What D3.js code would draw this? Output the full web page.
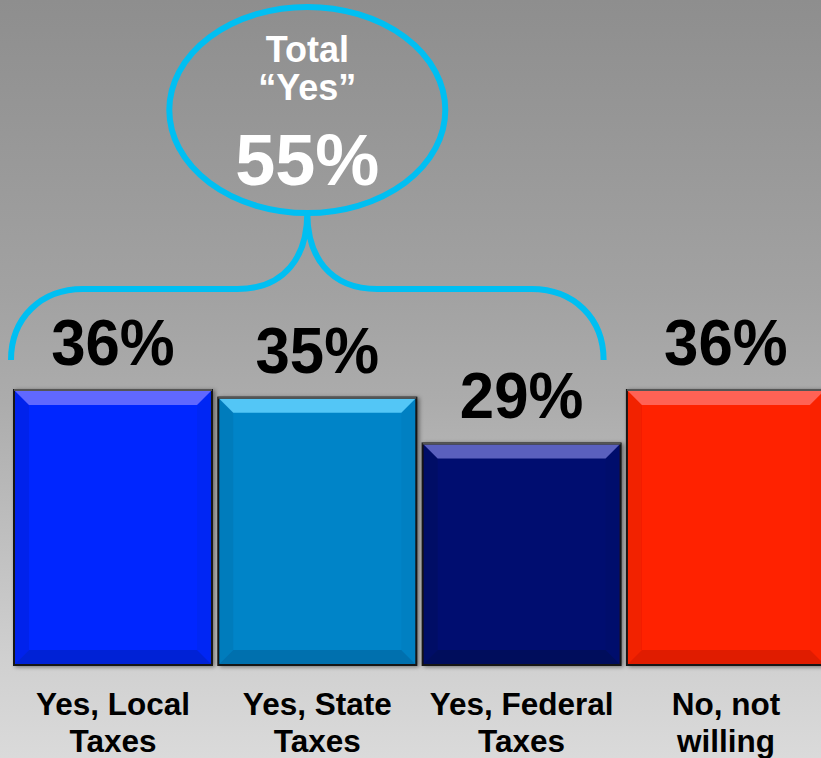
<!DOCTYPE html>
<html><head><meta charset="utf-8">
<script src="https://cdn.jsdelivr.net/npm/d3@7"></script>
<style>html,body{margin:0;padding:0;overflow:hidden;background:#aaa}</style>
</head><body>
<svg id="chart" width="821" height="758"></svg>
<script>
const categories = [["Yes, Local","Taxes"],["Yes, State","Taxes"],["Yes, Federal","Taxes"],["No, not","willing"]];
const values = [36, 35, 29, 36];
const valueLabels = ["36%","35%","29%","36%"];
const totalYes = ["Total", "\u201CYes\u201D", "55%"];
const barColors = [
  {main:"#0028ff", top:"#6068ff", left:"#0024ec", right:"#0026f4", bottom:"#0020d6"},
  {main:"#0084c8", top:"#52c6f6", left:"#007cbc", right:"#0080c2", bottom:"#006fae"},
  {main:"#000f70", top:"#5a60be", left:"#000c66", right:"#000e6c", bottom:"#000a5c"},
  {main:"#ff2200", top:"#ff6254", left:"#f22000", right:"#fa2100", bottom:"#e01c00"}
];

(function(){
const svg = d3.select("#chart");
const W = 821, H = 758;
const defs = svg.append("defs");
const bg = defs.append("linearGradient").attr("id","bg").attr("x1",0).attr("y1",0).attr("x2",0).attr("y2",1);
[[0,"#8e8e8e"],[0.39,"#a2a2a2"],[0.53,"#acacac"],[0.87,"#d0d0d0"],[1,"#dadada"]]
  .forEach(s=>bg.append("stop").attr("offset",s[0]).attr("stop-color",s[1]));
const sh = defs.append("filter").attr("id","sh").attr("x","-10%").attr("y","-10%").attr("width","130%").attr("height","130%");
sh.append("feDropShadow").attr("dx",2).attr("dy",1).attr("stdDeviation",2).attr("flood-color","#000").attr("flood-opacity",0.45);

svg.append("rect").attr("width",W).attr("height",H).attr("fill","url(#bg)");

const x = d3.scaleBand().domain(d3.range(values.length)).range([14, 824.9]).paddingInner(0.031).paddingOuter(0);
const y = d3.scaleLinear().domain([0, 36]).range([665, 390]);
const bw = x.bandwidth(), bev = 15;

const g = svg.append("g");
values.forEach((v,i)=>{
  const x0 = x(i), x1 = x0 + bw, t = y(v), b = y(0), c = barColors[i];
  const bar = g.append("g").attr("filter","url(#sh)");
  bar.append("rect").attr("x",x0).attr("y",t).attr("width",bw).attr("height",b-t).attr("fill",c.main);
  const poly = (pts,f)=>bar.append("polygon").attr("points",pts.map(p=>p.join(",")).join(" ")).attr("fill",f);
  poly([[x0,t],[x0+bev,t+bev],[x0+bev,b-bev],[x0,b]], c.left);
  poly([[x1,t],[x1-bev,t+bev],[x1-bev,b-bev],[x1,b]], c.right);
  poly([[x0,b],[x0+bev,b-bev],[x1-bev,b-bev],[x1,b]], c.bottom);
  poly([[x0,t],[x1,t],[x1-bev,t+bev],[x0+bev,t+bev]], c.top);
  bar.append("rect").attr("x",x0).attr("y",t).attr("width",bw).attr("height",b-t)
    .attr("fill","none").attr("stroke","#151515").attr("stroke-width",2);
  bar.append("line").attr("x1",x0).attr("x2",x1).attr("y1",t).attr("y2",t).attr("stroke","#555").attr("stroke-width",2);
});

// value labels
g.selectAll(".val").data(values).join("text")
  .attr("x",(d,i)=>x(i)+bw/2).attr("y",d=>y(d)-25)
  .attr("text-anchor","middle").attr("font-family","Liberation Sans, Arial, sans-serif")
  .attr("font-weight","bold").attr("font-size",65).attr("fill","#000")
  .attr("transform",(d,i)=>`translate(${x(i)+bw/2},${y(d)-25}) scale(0.95,1) translate(${-(x(i)+bw/2)},${-(y(d)-25)})`)
  .text((d,i)=>valueLabels[i]);

// category labels
categories.forEach((lines,i)=>{
  const t = svg.append("text").attr("text-anchor","middle")
    .attr("font-family","Liberation Sans, Arial, sans-serif").attr("font-weight","bold")
    .attr("font-size",31.5).attr("fill","#000");
  lines.forEach((l,j)=>t.append("tspan").attr("x",x(i)+bw/2).attr("y",715+j*37).text(l));
});

// brace over the "Yes" bars
const cyan = "#00bff2";
const L = x(0) - 3, R = x(2) + bw - 17, cx = (L + R) / 2, hy = 289, ey = 360, cuspY = 213;
const brace = d3.path();
brace.moveTo(L, ey);
brace.bezierCurveTo(L, 318, L + 30, hy, L + 72, hy);
brace.lineTo(cx - 70, hy);
brace.bezierCurveTo(cx - 22, hy, cx, 256, cx, cuspY);
brace.bezierCurveTo(cx, 256, cx + 22, hy, cx + 70, hy);
brace.lineTo(R - 72, hy);
brace.bezierCurveTo(R - 30, hy, R, 318, R, ey);
svg.append("path").attr("d",brace.toString()).attr("fill","none").attr("stroke",cyan).attr("stroke-width",6);

svg.append("ellipse").attr("cx",cx).attr("cy",110).attr("rx",138).attr("ry",103)
  .attr("fill","none").attr("stroke",cyan).attr("stroke-width",6);

const tt = svg.append("g").attr("font-family","Liberation Sans, Arial, sans-serif").attr("font-weight","bold")
  .attr("fill","#fff").attr("text-anchor","middle");
tt.append("text").attr("x",cx).attr("y",62).attr("font-size",36).text(totalYes[0]);
tt.append("text").attr("x",cx).attr("y",100).attr("font-size",36).text(totalYes[1]);
tt.append("text").attr("x",cx).attr("y",185).attr("font-size",72).text(totalYes[2]);
})();
</script>
</body></html>
